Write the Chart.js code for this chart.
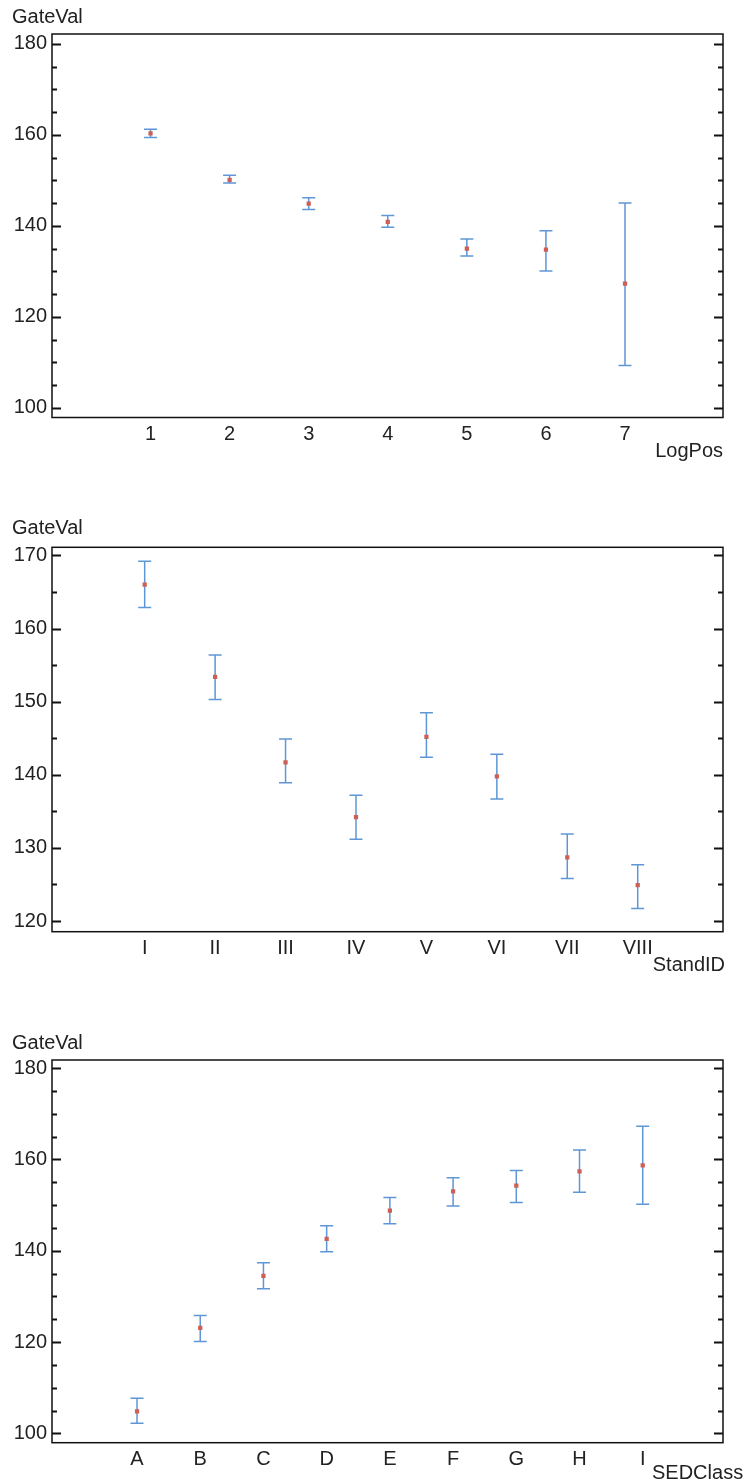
<!DOCTYPE html>
<html>
<head>
<meta charset="utf-8">
<script src="https://cdn.jsdelivr.net/npm/chart.js@4.4.1/dist/chart.umd.min.js"></script>
<style>
  html, body { margin: 0; padding: 0; background: #fff; }
  body { position: relative; width: 747px; height: 1481px; overflow: hidden; }
  canvas { position: absolute; left: 0; }
</style>
</head>
<body>
<canvas id="chartLogPos" width="747" height="470" style="top:0px"></canvas>
<canvas id="chartStand" width="747" height="472" style="top:511px"></canvas>
<canvas id="chartSed" width="747" height="455" style="top:1026px"></canvas>
<script>
// --- datos ---
const logPosCats = ['1', '2', '3', '4', '5', '6', '7'];
const logPosMean = [160.3, 150.1, 144.9, 140.9, 135.0, 134.8, 127.3];
const logPosHigh = [161.2, 151.1, 146.2, 142.3, 137.1, 138.9, 145.0];
const logPosLow  = [159.4, 149.4, 143.6, 139.7, 133.4, 130.1, 109.3];

const standCats = ['I', 'II', 'III', 'IV', 'V', 'VI', 'VII', 'VIII'];
const standMean = [166.0, 153.4, 141.7, 134.2, 145.2, 139.8, 128.7, 124.9];
const standHigh = [169.2, 156.4, 144.9, 137.2, 148.5, 142.8, 131.9, 127.7];
const standLow  = [162.9, 150.3, 138.9, 131.2, 142.4, 136.7, 125.8, 121.7];

const sedCats = ['A', 'B', 'C', 'D', 'E', 'F', 'G', 'H', 'I'];
const sedMean = [104.8, 123.1, 134.5, 142.6, 148.8, 153.0, 154.3, 157.4, 158.7];
const sedHigh = [107.7, 125.8, 137.4, 145.5, 151.7, 156.0, 157.6, 162.1, 167.3];
const sedLow  = [102.2, 120.1, 131.7, 139.8, 145.9, 149.8, 150.6, 152.8, 150.2];

const TEXT_COLOR = '#222222';
const BAR_COLOR = '#5f96d6';
const POINT_COLOR = '#cf5f55';
const CAP = 6.5;  // medio ancho del remate de la barra
const FONT_SIZE = 20;

Chart.defaults.font.family = "'Liberation Sans', Arial, sans-serif";
Chart.defaults.font.size = FONT_SIZE;
Chart.defaults.color = TEXT_COLOR;

// barras de error, marco, marcas hacia dentro y nombre del eje x
const marcoPlugin = {
    id: 'marco',
    beforeDatasetsDraw(chart) {
        const ctx = chart.ctx;
        const y = chart.scales.y;
        const meta = chart.getDatasetMeta(0);
        ctx.save();
        ctx.strokeStyle = BAR_COLOR;
        ctx.lineWidth = 1.5;
        meta.data.forEach((pt, i) => {
            const raw = chart.data.datasets[0].data[i];
            const yTop = y.getPixelForValue(raw.hi);
            const yBot = y.getPixelForValue(raw.lo);
            ctx.beginPath();
            ctx.moveTo(pt.x, yTop);
            ctx.lineTo(pt.x, yBot);
            ctx.moveTo(pt.x - CAP, yTop);
            ctx.lineTo(pt.x + CAP, yTop);
            ctx.moveTo(pt.x - CAP, yBot);
            ctx.lineTo(pt.x + CAP, yBot);
            ctx.stroke();
        });
        ctx.restore();
    },
    afterDraw(chart, args, opts) {
        const ctx = chart.ctx;
        const a = chart.chartArea;
        const y = chart.scales.y;
        ctx.save();
        ctx.strokeStyle = '#111';
        ctx.lineWidth = 1.5;
        ctx.strokeRect(a.left, a.top, a.right - a.left, a.bottom - a.top);

        // marcas del eje y, izquierda y derecha
        ctx.lineWidth = 2;
        y.ticks.forEach(t => {
            const py = Math.round(y.getPixelForValue(t.value)) + 0.5;
            const len = (t.value % opts.major === 0) ? 9 : 5;
            ctx.beginPath();
            ctx.moveTo(a.left, py);
            ctx.lineTo(a.left + len, py);
            ctx.moveTo(a.right, py);
            ctx.lineTo(a.right - len, py);
            ctx.stroke();
        });

        // nombre del eje x
        ctx.fillStyle = TEXT_COLOR;
        ctx.font = FONT_SIZE + "px 'Liberation Sans', Arial, sans-serif";
        ctx.textAlign = opts.nameAlign;
        ctx.textBaseline = 'alphabetic';
        ctx.fillText(opts.name, a.right + opts.nameDx, a.bottom + opts.nameDy);
        ctx.restore();
    }
};

function crearGrafico(id, cats, mean, high, low, cfg) {
    const puntos = cats.map((c, i) => ({ x: i + 1, y: mean[i], hi: high[i], lo: low[i] }));
    const canvas = document.getElementById(id);
    return new Chart(canvas.getContext('2d'), {
        type: 'scatter',
        data: {
            datasets: [{
                data: puntos,
                pointStyle: 'rect',
                pointRadius: 3,
                pointHoverRadius: 3,
                backgroundColor: POINT_COLOR,
                borderWidth: 0
            }]
        },
        options: {
            responsive: false,
            animation: false,
            devicePixelRatio: 1,
            layout: { padding: { left: 12, right: 24, top: 0, bottom: 0 } },
            plugins: {
                legend: { display: false },
                tooltip: { enabled: false },
                title: {
                    display: true,
                    text: 'GateVal',
                    align: 'start',
                    color: TEXT_COLOR,
                    font: { size: FONT_SIZE, weight: 'normal' },
                    padding: { top: 5.4, bottom: cfg.titleBottom }
                },
                marco: {
                    major: cfg.major,
                    name: cfg.name,
                    nameAlign: cfg.nameAlign,
                    nameDx: cfg.nameDx,
                    nameDy: cfg.nameDy
                }
            },
            scales: {
                x: {
                    type: 'linear',
                    min: cfg.xMin,
                    max: cfg.xMax,
                    grid: { display: false, drawTicks: false },
                    border: { display: false },
                    afterBuildTicks: s => { s.ticks = cats.map((c, i) => ({ value: i + 1 })); },
                    ticks: {
                        padding: 5,
                        autoSkip: false,
                        maxRotation: 0,
                        callback: v => cats[v - 1]
                    },
                    afterFit: s => { s.height = canvas.height - cfg.bottom; }
                },
                y: {
                    min: cfg.yMin,
                    max: cfg.yMax,
                    grid: { display: false, drawTicks: false },
                    border: { display: false },
                    ticks: {
                        stepSize: 5,
                        includeBounds: false,
                        autoSkip: false,
                        padding: 5,
                        callback: v => (v % cfg.major === 0 ? v : '')
                    },
                    afterFit: s => { s.width = 40; }
                }
            }
        },
        plugins: [marcoPlugin]
    });
}

crearGrafico('chartLogPos', logPosCats, logPosMean, logPosHigh, logPosLow, {
    xMin: -0.246, xMax: 8.239, yMin: 97.9, yMax: 182.15, major: 20,
    titleBottom: 4.6, bottom: 417.5,
    name: 'LogPos', nameAlign: 'right', nameDx: 0, nameDy: 39
});

crearGrafico('chartStand', standCats, standMean, standHigh, standLow, {
    xMin: -0.316, xMax: 9.211, yMin: 118.54, yMax: 171.12, major: 10,
    titleBottom: 6.9, bottom: 420.7,
    name: 'StandID', nameAlign: 'right', nameDx: 2, nameDy: 39
});

crearGrafico('chartSed', sedCats, sedMean, sedHigh, sedLow, {
    xMin: -0.345, xMax: 10.27, yMin: 97.95, yMax: 181.8, major: 20,
    titleBottom: 4.6, bottom: 416.7,
    name: 'SEDClass', nameAlign: 'left', nameDx: -71, nameDy: 36
});
</script>
</body>
</html>
